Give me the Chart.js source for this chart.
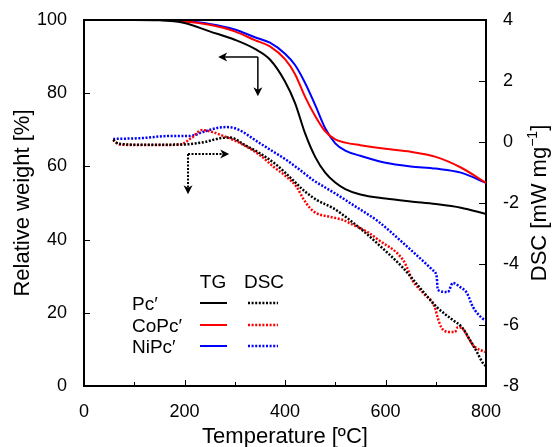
<!DOCTYPE html>
<html>
<head>
<meta charset="utf-8">
<script src="https://cdn.jsdelivr.net/npm/chart.js@4.4.1/dist/chart.umd.min.js"></script>
<style>
  html, body { margin: 0; padding: 0; background: #fff; }
</style>
</head>
<body>
<canvas id="chTGDSC" width="553" height="447"></canvas>
<script>
/* TG / DSC curves of Pc', CoPc', NiPc' */

// series names and colors
var seriesNames = ['Pc\u2032', 'CoPc\u2032', 'NiPc\u2032'];
var colors = ['#000000', '#ff0000', '#0000ff'];

// TG (relative weight, %) - shared temperature grid
var tgTemp = [58, 100, 150, 200, 250, 300, 340, 370, 400, 420, 440, 460, 480, 500, 520, 550, 600, 650, 700, 750, 800];
var tgPc   = [100, 100, 99.9, 99.2, 96.9, 94.6, 92.1, 89.2, 83.2, 77.3, 69.0, 62.6, 58.3, 55.6, 53.8, 52.3, 51.2, 50.4, 49.7, 48.7, 47.0];
var tgCoPc = [100, 100, 100, 99.6, 98.7, 96.9, 94.5, 92.8, 89.3, 85.2, 79.0, 73.8, 69.6, 67.4, 66.5, 65.8, 64.8, 64.0, 62.6, 59.7, 55.5];
var tgNiPc = [100, 100, 100, 99.7, 98.9, 97.4, 95.3, 93.8, 90.8, 87.7, 82.8, 76.8, 70.4, 66.3, 64.3, 62.9, 61.0, 60.0, 59.4, 58.3, 55.5];

// DSC (mW/mg)
var dscPcTemp = [58, 70, 120, 200, 240, 270, 290, 320, 350, 383, 416, 436, 463, 496, 529, 556, 582, 635, 669, 702, 734, 752, 768, 782, 794, 800];
var dscPc     = [0.07, -0.06, -0.09, -0.08, 0.0, 0.12, 0.15, -0.10, -0.37, -0.75, -1.25, -1.57, -1.90, -2.17, -2.56, -2.92, -3.30, -4.13, -4.79, -5.41, -5.84, -6.07, -6.49, -6.89, -7.25, -7.35];

var dscCoTemp = [58, 70, 120, 190, 215, 235, 257, 277, 304, 350, 377, 403, 423, 436, 450, 463, 489, 516, 536, 563, 586, 635, 645, 653, 675, 698, 704, 712, 728, 738, 744, 752, 764, 774, 798];
var dscCoPc   = [0.07, -0.08, -0.10, -0.09, 0.15, 0.39, 0.32, 0.20, 0.02, -0.43, -0.81, -1.14, -1.47, -1.85, -2.17, -2.34, -2.45, -2.56, -2.72, -2.94, -3.21, -3.87, -4.20, -4.52, -4.95, -5.41, -5.77, -6.10, -6.23, -6.23, -6.07, -6.10, -6.39, -6.66, -6.89];

var dscNiTemp = [58, 117, 171, 211, 237, 265, 284, 304, 350, 377, 403, 430, 456, 483, 510, 536, 562, 586, 635, 694, 702, 704, 724, 734, 748, 762, 774, 792, 800];
var dscNiPc   = [0.10, 0.13, 0.20, 0.20, 0.33, 0.46, 0.49, 0.43, -0.04, -0.32, -0.59, -0.92, -1.25, -1.52, -1.79, -2.07, -2.34, -2.61, -3.31, -4.20, -4.43, -4.85, -4.92, -4.62, -4.75, -4.95, -5.41, -5.77, -5.85];

// tick values
var xTicks = [0, 200, 400, 600, 800];
var xMinorTicks = [100, 300, 500, 700];
var yTicks = [0, 20, 40, 60, 80, 100];
var y1Ticks = [-8, -6, -4, -2, 0, 2, 4];

var fontFamily = "'Liberation Sans', Arial, sans-serif";
Chart.defaults.font.family = fontFamily;
Chart.defaults.color = '#000';

function toPoints(xs, ys) {
    return xs.map(function (t, i) { return { x: t, y: ys[i] }; });
}

function setTicks(vals) {
    return function (scale) {
        scale.ticks = vals.map(function (v) { return { value: v }; });
    };
}

// fixed width for the side axes, plot top at 20px
function fitSide(w) {
    return function (s) {
        s.width = w;
        s.paddingTop = 20;
        s.paddingBottom = 0;
    };
}

var tgSets = [tgPc, tgCoPc, tgNiPc];
var dscSets = [[dscPcTemp, dscPc], [dscCoTemp, dscCoPc], [dscNiTemp, dscNiPc]];

var datasets = [];
tgSets.forEach(function (vals, i) {
    datasets.push({
        label: 'TG ' + seriesNames[i],
        data: toPoints(tgTemp, vals),
        yAxisID: 'y',
        borderColor: colors[i],
        borderWidth: 2,
        pointRadius: 0,
        cubicInterpolationMode: 'monotone',
        fill: false
    });
});
dscSets.forEach(function (d, i) {
    datasets.push({
        label: 'DSC ' + seriesNames[i],
        data: toPoints(d[0], d[1]),
        yAxisID: 'y1',
        borderColor: colors[i],
        borderWidth: 2.5,
        borderDash: [2, 1.6],
        pointRadius: 0,
        cubicInterpolationMode: 'monotone',
        fill: false
    });
});

function arrow(ctx, x0, y0, x1, y1) {
    var ang = Math.atan2(y1 - y0, x1 - x0);
    ctx.beginPath();
    ctx.moveTo(x0, y0);
    ctx.lineTo(x1 - 5 * Math.cos(ang), y1 - 5 * Math.sin(ang));
    ctx.stroke();
    ctx.save();
    ctx.setLineDash([]);
    ctx.translate(x1, y1);
    ctx.rotate(ang);
    ctx.beginPath();
    ctx.moveTo(0, 0);
    ctx.lineTo(-9, -4.5);
    ctx.lineTo(-6.5, 0);
    ctx.lineTo(-9, 4.5);
    ctx.closePath();
    ctx.fill();
    ctx.restore();
}

// frame, inside ticks, arrows, legend, right title
var extrasPlugin = {
    id: 'extras',
    afterDraw: function (chart) {
        var ctx = chart.ctx, a = chart.chartArea;
        var sx = chart.scales.x, sy = chart.scales.y, sy1 = chart.scales.y1;
        ctx.save();
        ctx.strokeStyle = '#000';
        ctx.fillStyle = '#000';

        // top border
        ctx.lineWidth = 2;
        ctx.beginPath();
        ctx.moveTo(a.left - 1, a.top);
        ctx.lineTo(a.right + 1, a.top);
        ctx.stroke();

        // inside ticks
        ctx.lineWidth = 1;
        ctx.beginPath();
        xTicks.forEach(function (v) {
            var p = Math.round(sx.getPixelForValue(v)) + 0.5;
            ctx.moveTo(p, a.bottom); ctx.lineTo(p, a.bottom - 6);
        });
        xMinorTicks.forEach(function (v) {
            var p = Math.round(sx.getPixelForValue(v)) + 0.5;
            ctx.moveTo(p, a.bottom); ctx.lineTo(p, a.bottom - 4);
        });
        yTicks.forEach(function (v) {
            var p = Math.round(sy.getPixelForValue(v)) + 0.5;
            ctx.moveTo(a.left, p); ctx.lineTo(a.left + 6, p);
        });
        y1Ticks.forEach(function (v) {
            var p = Math.round(sy1.getPixelForValue(v)) + 0.5;
            ctx.moveTo(a.right, p); ctx.lineTo(a.right - 7, p);
        });
        ctx.stroke();

        // arrow TG -> left axis
        ctx.lineWidth = 1.5;
        var cx = sx.getPixelForValue(346), cy = sy.getPixelForValue(89.9);
        arrow(ctx, cx, cy, sx.getPixelForValue(267), cy);
        arrow(ctx, cx, cy, cx, sy.getPixelForValue(79.2));

        // arrow DSC -> right axis (dotted)
        ctx.setLineDash([2, 1.5]);
        ctx.lineWidth = 2;
        var dx = sx.getPixelForValue(207), dy = sy.getPixelForValue(63.4);
        arrow(ctx, dx, dy, sx.getPixelForValue(289), dy);
        arrow(ctx, dx, dy, dx, sy.getPixelForValue(52.4));
        ctx.setLineDash([]);

        // legend
        ctx.font = '19px ' + fontFamily;
        ctx.textBaseline = 'middle';
        ctx.textAlign = 'center';
        ctx.fillText('TG', 213, 283);
        ctx.fillText('DSC', 264, 283);
        ctx.textAlign = 'left';
        var rowY = [305, 327, 348];
        seriesNames.forEach(function (name, i) {
            ctx.fillStyle = '#000';
            ctx.fillText(name, 132, rowY[i]);
            ctx.strokeStyle = colors[i];
            ctx.lineWidth = 2;
            ctx.beginPath();
            ctx.moveTo(200, rowY[i] - 2); ctx.lineTo(227, rowY[i] - 2);
            ctx.stroke();
            ctx.lineWidth = 2.5;
            ctx.setLineDash([2, 1.6]);
            ctx.beginPath();
            ctx.moveTo(248, rowY[i] - 2); ctx.lineTo(278, rowY[i] - 2);
            ctx.stroke();
            ctx.setLineDash([]);
        });

        // right axis title (reads bottom to top)
        ctx.fillStyle = '#000';
        ctx.translate(540, (a.top + a.bottom) / 2);
        ctx.rotate(-Math.PI / 2);
        var big = '22px ' + fontFamily, small = '14px ' + fontFamily;
        var p1 = 'DSC [mW mg', p2 = '\u22121', p3 = ']';
        ctx.font = big; var w1 = ctx.measureText(p1).width, w3 = ctx.measureText(p3).width;
        ctx.font = small; var w2 = ctx.measureText(p2).width;
        var x0 = -(w1 + w2 + w3) / 2;
        ctx.textAlign = 'left';
        ctx.textBaseline = 'middle';
        ctx.font = big; ctx.fillText(p1, x0, 0);
        ctx.font = small; ctx.fillText(p2, x0 + w1, -7);
        ctx.font = big; ctx.fillText(p3, x0 + w1 + w2, 0);
        ctx.restore();
    }
};

var chTGDSC = document.getElementById('chTGDSC');
if (chTGDSC) {
    new Chart(chTGDSC, {
        type: 'line',
        data: { datasets: datasets },
        options: {
            responsive: false,
            animation: false,
            layout: { padding: 0 },
            plugins: { legend: { display: false }, tooltip: { enabled: false } },
            scales: {
                x: {
                    type: 'linear',
                    min: 0, max: 800,
                    afterBuildTicks: setTicks(xTicks),
                    afterFit: function (s) { s.height = 61; },
                    grid: { display: false, drawTicks: false },
                    border: { display: true, color: '#000', width: 2 },
                    ticks: { font: { size: 18 }, padding: 15, maxRotation: 0 },
                    title: { display: true, text: 'Temperature [\u00baC]', font: { size: 22 }, padding: { top: 0, bottom: -3 } }
                },
                y: {
                    position: 'left',
                    min: 0, max: 100,
                    afterBuildTicks: setTicks(yTicks),
                    afterFit: fitSide(84),
                    grid: { display: false, drawTicks: false },
                    border: { display: true, color: '#000', width: 2 },
                    ticks: { font: { size: 18 }, padding: 17 },
                    title: { display: true, text: 'Relative weight [%]', font: { size: 22 }, padding: { top: 10, bottom: 0 } }
                },
                y1: {
                    position: 'right',
                    min: -8, max: 4,
                    afterBuildTicks: setTicks(y1Ticks),
                    afterFit: fitSide(67),
                    grid: { display: false, drawTicks: false },
                    border: { display: true, color: '#000', width: 2 },
                    ticks: { font: { size: 18 }, padding: 17 }
                }
            }
        },
        plugins: [extrasPlugin]
    });
}
</script>
</body>
</html>
